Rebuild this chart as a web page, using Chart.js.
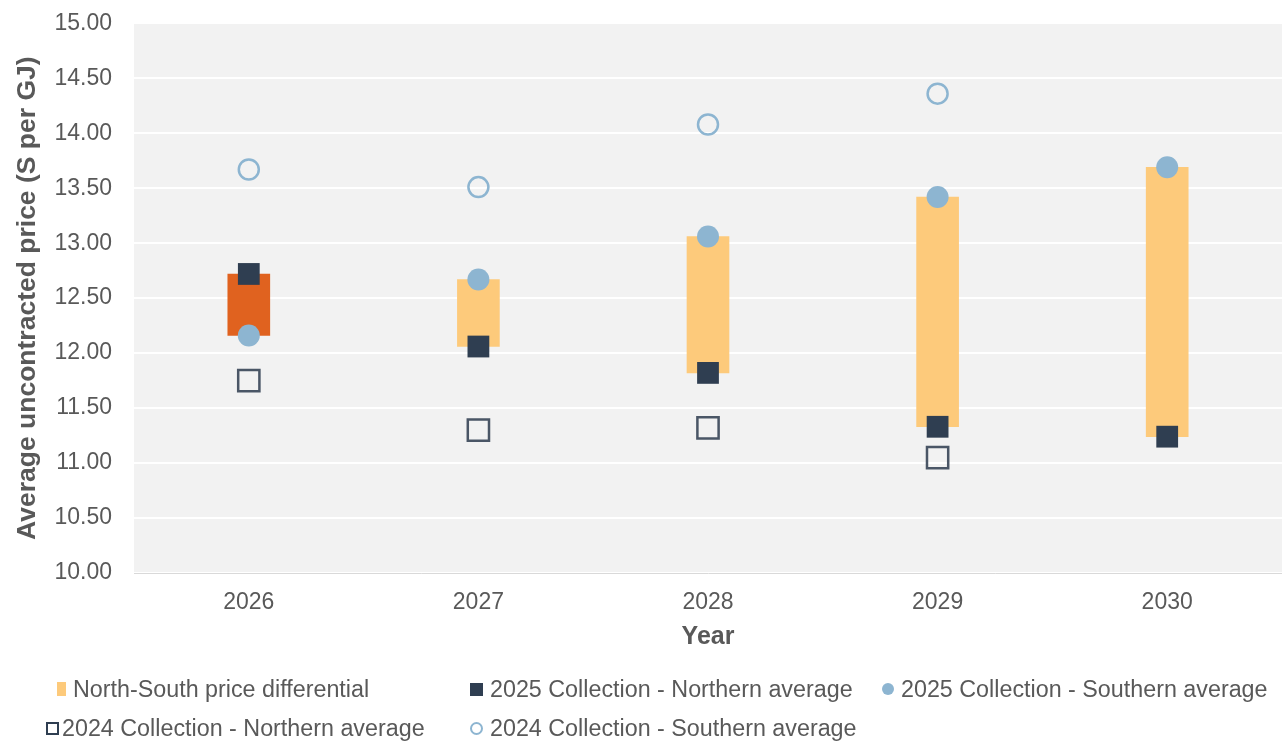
<!DOCTYPE html>
<html>
<head>
<meta charset="utf-8">
<script src="https://cdn.jsdelivr.net/npm/chart.js@4"></script>
<style>
  html, body { margin: 0; padding: 0; background: #ffffff; }
  #wrap { position: relative; width: 1282px; height: 743px; font-family: "Liberation Sans", Arial, sans-serif; }
  #chartBox { position: absolute; left: 0; top: 0; width: 1282px; height: 660px; }
  #legend { position: absolute; left: 0; top: 0; width: 1282px; height: 743px; pointer-events: none; }
  .item { position: absolute; display: flex; align-items: center; height: 28px; margin-top: -14px; font-size: 23.3px; color: #595959; white-space: nowrap; }
  .mark { display: inline-block; box-sizing: border-box; margin-right: 7px; }
</style>
</head>
<body>
<div id="wrap">
  <div id="chartBox"><canvas id="priceChart" width="1282" height="660"></canvas></div>
  <div id="legend"></div>
</div>
<script>
// years on the x axis
const years = ['2026', '2027', '2028', '2029', '2030'];

// average uncontracted price, $ per GJ
const north2025 = [12.72, 12.06, 11.82, 11.33, 11.24];
const south2025 = [12.16, 12.67, 13.06, 13.42, 13.69];
const north2024 = [11.75, 11.30, 11.32, 11.05, null];
const south2024 = [13.67, 13.51, 14.08, 14.36, null];

// y axis range
const yMin = 10;
const yMax = 15;
const yStep = 0.5;

const colors = {
    barLight:  '#FDCA7B',
    barDark:   '#E0621F',
    navy:      '#2F3E51',
    navyLine:  '#4A5666',
    blue:      '#8DB5D1',
    plotBg:    '#F2F2F2',
    grid:      '#FFFFFF',
    axis:      '#D9D9D9',
    text:      '#595959'
};

// floating bar between the northern and southern 2025 averages
const differential = north2025.map(function (n, i) {
    return [Math.min(n, south2025[i]), Math.max(n, south2025[i])];
});
const barColors = years.map(function (y, i) { return i === 0 ? colors.barDark : colors.barLight; });

const plotBackground = {
    id: 'plotBackground',
    beforeDraw: function (chart) {
        const a = chart.chartArea;
        const ctx = chart.ctx;
        ctx.save();
        ctx.fillStyle = colors.plotBg;
        ctx.fillRect(a.left, a.top, a.right - a.left, a.bottom - a.top);
        ctx.restore();
    }
};

const pointSet = function (label, data, style, radius, fill, line, width, order) {
    return {
        type: 'line',
        label: label,
        data: data,
        showLine: false,
        pointStyle: style,
        pointRadius: radius,
        pointHoverRadius: radius,
        pointBackgroundColor: fill,
        pointBorderColor: line,
        pointBorderWidth: width,
        order: order,
        clip: false,
        legendMark: style + (fill === 'transparent' ? '-open' : '')
    };
};

const chart = new Chart(document.getElementById('priceChart'), {
    type: 'bar',
    data: {
        labels: years,
        datasets: [
            {
                label: 'North-South price differential',
                data: differential,
                backgroundColor: barColors,
                borderWidth: 0,
                barThickness: 42,
                order: 10,
                legendMark: 'bar'
            },
            pointSet('2025 Collection - Northern average', north2025, 'rect', 15.4, colors.navy, colors.navy, 0, 2),
            pointSet('2025 Collection - Southern average', south2025, 'circle', 11, colors.blue, colors.blue, 0, 1),
            pointSet('2024 Collection - Northern average', north2024, 'rect', 15, 'transparent', colors.navyLine, 2.5, 3),
            pointSet('2024 Collection - Southern average', south2024, 'circle', 10, 'transparent', colors.blue, 2.5, 4)
        ]
    },
    options: {
        responsive: false,
        animation: false,
        layout: { autoPadding: false, padding: { top: 23.3, right: 0, bottom: 0, left: 0 } },
        plugins: {
            legend: { display: false },
            tooltip: { enabled: false }
        },
        scales: {
            x: {
                offset: true,
                grid: { display: false, drawTicks: false },
                border: { display: true, color: colors.axis, width: 1 },
                ticks: {
                    color: colors.text,
                    font: { family: 'Liberation Sans', size: 23 },
                    padding: 16
                },
                title: {
                    display: true,
                    text: 'Year',
                    color: colors.text,
                    font: { family: 'Liberation Sans', size: 25, weight: 'bold' },
                    padding: { top: 0, bottom: 8 }
                },
                afterFit: function (scale) { scale.height = 87; }
            },
            y: {
                min: yMin,
                max: yMax,
                grid: { color: colors.grid, lineWidth: 2, drawTicks: false },
                border: { display: false },
                ticks: {
                    stepSize: yStep,
                    color: colors.text,
                    font: { family: 'Liberation Sans', size: 23 },
                    padding: 22,
                    callback: function (v) { return Number(v).toFixed(2); }
                },
                title: {
                    display: true,
                    text: 'Average uncontracted price (S per GJ)',
                    color: colors.text,
                    font: { family: 'Liberation Sans', size: 26.5, weight: 'bold' },
                    padding: { top: 12, bottom: 0 }
                },
                afterFit: function (scale) {
                    scale.width = 134;
                    // top edge comes from layout padding only
                    scale.paddingTop = 0;
                }
            }
        }
    },
    plugins: [plotBackground]
});

// legend laid out in two rows below the chart
const legendSpots = [
    { left: 57, top: 689 },
    { left: 470, top: 689 },
    { left: 882, top: 689 },
    { left: 46, top: 728 },
    { left: 470, top: 728 }
];

function markStyle(kind) {
    switch (kind) {
        case 'bar':         return 'width:9px;height:14px;background:' + colors.barLight;
        case 'rect':        return 'width:13px;height:13px;background:' + colors.navy;
        case 'circle':      return 'width:12px;height:12px;border-radius:50%;background:' + colors.blue;
        case 'rect-open':   return 'width:13px;height:13px;border:2.5px solid ' + colors.navy + ';margin-right:3px';
        case 'circle-open': return 'width:13px;height:13px;border-radius:50%;border:2.5px solid ' + colors.blue;
    }
    return '';
}

const legendBox = document.getElementById('legend');
chart.data.datasets.forEach(function (ds, i) {
    const item = document.createElement('div');
    item.className = 'item';
    item.style.left = legendSpots[i].left + 'px';
    item.style.top = legendSpots[i].top + 'px';
    const mark = document.createElement('span');
    mark.className = 'mark';
    mark.style.cssText = markStyle(ds.legendMark);
    const text = document.createElement('span');
    text.textContent = ds.label;
    item.appendChild(mark);
    item.appendChild(text);
    legendBox.appendChild(item);
});
</script>
</body>
</html>
